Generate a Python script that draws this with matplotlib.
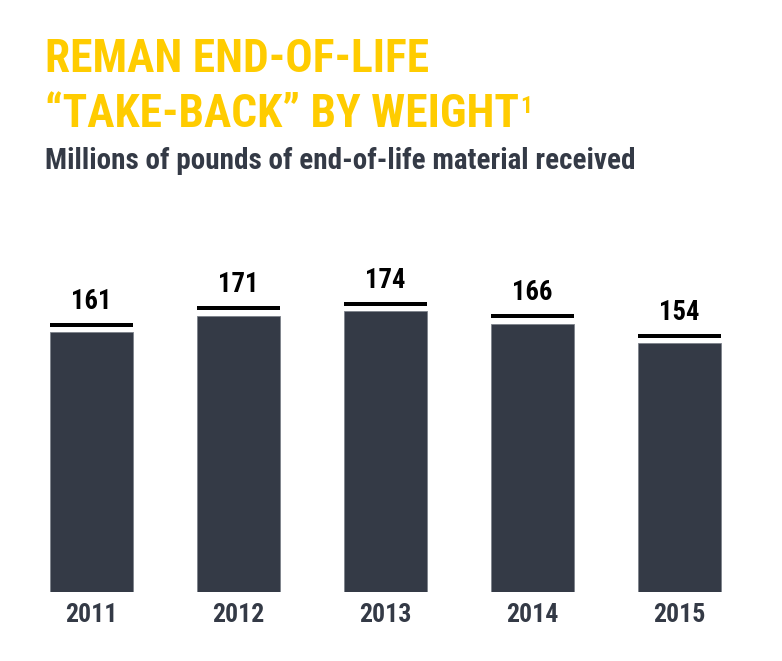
import matplotlib
matplotlib.use("Agg")
import matplotlib.pyplot as plt
import matplotlib.transforms as mtransforms
from matplotlib import font_manager

years = ["2011", "2012", "2013", "2014", "2015"]
values = [161, 171, 174, 166, 154]
labels = ["161", "171", "174", "166", "154"]

title_line1 = "REMAN END-OF-LIFE"
title_line2 = "\u201cTAKE-BACK\u201d BY WEIGHT"
title_sup = "1"
subtitle = "Millions of pounds of end-of-life material received"

names = {f.name for f in font_manager.fontManager.ttflist}
FAM = [n for n in ["Roboto Condensed", "Archivo Narrow", "Roboto"] if n in names] + ["DejaVu Sans"]

YELLOW = "#FFCC00"
DARK = "#343A46"

W, H = 782, 661
fig = plt.figure(figsize=(W / 100, H / 100), dpi=100)
fig.patch.set_facecolor("white")

ax_left, ax_right = 18, 753
ax_bottom_px = 591.7
px_per_unit = 1.613
ymax = 200
ax_h = ymax * px_per_unit
ax = fig.add_axes([ax_left / W, (H - ax_bottom_px) / H, (ax_right - ax_left) / W, ax_h / H])
ax.set_xlim(-0.5, len(years) - 0.5)
ax.set_ylim(0, ymax)
ax.axis("off")

x = list(range(len(years)))
bw = 83 / 147
ax.bar(x, values, width=bw, color=DARK, edgecolor="#7d828b", linewidth=0.6)

line_tr = mtransforms.offset_copy(ax.transData, fig=fig, x=0, y=7.5, units="dots")
ax.hlines(values, [i - bw / 2 for i in x], [i + bw / 2 for i in x],
          colors="black", linewidth=4 * 72 / 100, transform=line_tr)

lab_tr = mtransforms.offset_copy(ax.transData, fig=fig, x=0, y=23.5, units="dots")
for i, v, t in zip(x, values, labels):
    ax.text(i, v, t, transform=lab_tr, ha="center", va="baseline",
            fontsize=19.2, fontweight="bold", color="black", family=FAM)

yr_tr = mtransforms.offset_copy(ax.transData, fig=fig, x=0, y=-30, units="dots")
for i, yr in zip(x, years):
    ax.text(i, 0, yr, transform=yr_tr, ha="center", va="baseline",
            fontsize=18.6, fontweight="bold", color=DARK, family=FAM)

def fy(px):
    return 1 - px / H

fig.text(45 / W, fy(71.7), title_line1, fontsize=32.8, fontweight="bold", color=YELLOW,
         family=FAM, va="baseline", ha="left")
t2 = fig.text(45 / W, fy(126.7), title_line2, fontsize=32.8, fontweight="bold", color=YELLOW,
              family=FAM, va="baseline", ha="left")
fig.canvas.draw()
bb = t2.get_window_extent()
fig.text((bb.x1 + 1) / W, fy(95), title_sup, fontsize=17, fontweight="bold", color=YELLOW,
         family=FAM, va="top", ha="left")
fig.text(45 / W, fy(168.5), subtitle, fontsize=21, fontweight="bold", color=DARK,
         family=FAM, va="baseline", ha="left")

fig.savefig("out.png", dpi=100, facecolor="white")
